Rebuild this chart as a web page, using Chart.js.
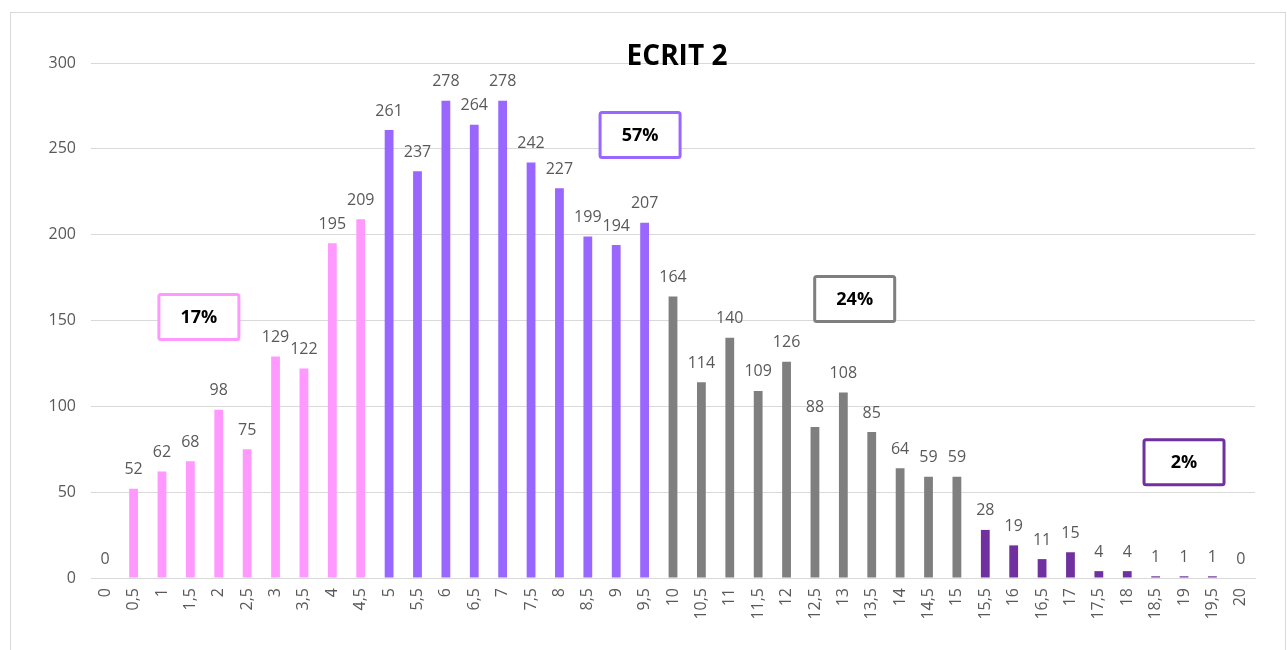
<!DOCTYPE html>
<html>
<head>
<meta charset="utf-8">
<script src="https://cdn.jsdelivr.net/npm/chart.js@4/dist/chart.umd.min.js"></script>
<style>
  html, body { margin: 0; padding: 0; background: #fff; }
  #frame { position: absolute; left: 10px; top: 12px; width: 1274px; height: 700px; border: 1px solid #d9d9d9; }
  #wrap { position: absolute; left: 0; top: 0; width: 1287px; height: 650px; }
</style>
</head>
<body>
<div id="frame"></div>
<div id="wrap"><canvas id="c" width="1287" height="650"></canvas></div>
<script>
const chartTitle = 'ECRIT 2';
const grades = ['0','0,5','1','1,5','2','2,5','3','3,5','4','4,5','5','5,5','6','6,5','7','7,5','8','8,5','9','9,5','10','10,5','11','11,5','12','12,5','13','13,5','14','14,5','15','15,5','16','16,5','17','17,5','18','18,5','19','19,5','20'];
const counts = [0,52,62,68,98,75,129,122,195,209,261,237,278,264,278,242,227,199,194,207,164,114,140,109,126,88,108,85,64,59,59,28,19,11,15,4,4,1,1,1,0];
const yTicks = [0,50,100,150,200,250,300];
const bandLabels = ['17%','57%','24%','2%'];
const bandFirstIndex = [0,10,20,31];
const bandColors = ['#FF99FF','#9966FF','#7F7F7F','#7030A0'];

// annotation box anchors (in axis units: category index, count value)
const boxAnchors = [[3.3,152],[18.84,258],[26.4,162.5],[38.0,67.5]];

function bandOf(i){ let b=0; for(let k=0;k<bandFirstIndex.length;k++){ if(i>=bandFirstIndex[k]) b=k; } return b; }
const barColors = counts.map((v,i)=>bandColors[bandOf(i)]);

const FONT = '"Open Sans", "Liberation Sans", sans-serif';

const overlay = {
  id: 'overlay',
  afterDatasetsDraw(chart){
    const ctx = chart.ctx;
    const xs = chart.scales.x, ys = chart.scales.y;
    const meta = chart.getDatasetMeta(0);
    ctx.save();
    // value labels
    ctx.fillStyle = '#595959';
    ctx.font = '16px ' + FONT;
    ctx.textAlign = 'center';
    ctx.textBaseline = 'middle';
    meta.data.forEach((bar,i)=>{
      ctx.fillText(String(counts[i]), bar.x, bar.y - 19);
    });
    // title
    ctx.fillStyle = '#000';
    ctx.font = 'bold 28px ' + FONT;
    ctx.textBaseline = 'middle';
    ctx.fillText(chartTitle, (chart.chartArea.left + chart.chartArea.right)/2 + 4, 57);
    // boxes
    const bw = 80, bh = 45;
    boxAnchors.forEach((a,k)=>{
      const cx = xs.getPixelForValue(a[0]);
      const cy = ys.getPixelForValue(a[1]);
      ctx.fillStyle = '#fff';
      ctx.strokeStyle = bandColors[k];
      ctx.lineWidth = 3;
      ctx.beginPath();
      if (ctx.roundRect) ctx.roundRect(cx-bw/2, cy-bh/2, bw, bh, 2); else ctx.rect(cx-bw/2, cy-bh/2, bw, bh);
      ctx.fill();
      ctx.stroke();
      ctx.fillStyle = '#000';
      ctx.font = 'bold 18px ' + FONT;
      ctx.textAlign = 'center';
      ctx.textBaseline = 'middle';
      ctx.fillText(bandLabels[k], cx, cy + 1);
    });
    ctx.restore();
  }
};

new Chart(document.getElementById('c'), {
  type: 'bar',
  data: {
    labels: grades,
    datasets: [{
      data: counts,
      backgroundColor: barColors,
      borderWidth: 0,
      barPercentage: 0.31,
      categoryPercentage: 1
    }]
  },
  options: {
    responsive: false,
    animation: false,
    events: [],
    layout: { padding: { top: 63, right: 32, bottom: 0, left: 0 } },
    plugins: { legend: { display: false }, tooltip: { enabled: false }, title: { display: false } },
    scales: {
      x: {
        grid: { display: false, drawTicks: false },
        border: { display: true, color: '#d9d9d9', width: 1 },
        ticks: {
          color: '#595959', font: { size: 16, family: FONT },
          minRotation: 90, maxRotation: 90, autoSkip: false, padding: 10
        },
        afterFit(s){ s.height = 72; }
      },
      y: {
        min: 0, max: 300,
        afterBuildTicks(s){ s.ticks = yTicks.map(v=>({value:v})); },
        grid: { color: '#d9d9d9', drawTicks: false, lineWidth: 1 },
        border: { display: false },
        ticks: { color: '#595959', font: { size: 16, family: FONT }, padding: 15 },
        afterFit(s){ s.width = 91; }
      }
    }
  },
  plugins: [overlay]
});
</script>
</body>
</html>
